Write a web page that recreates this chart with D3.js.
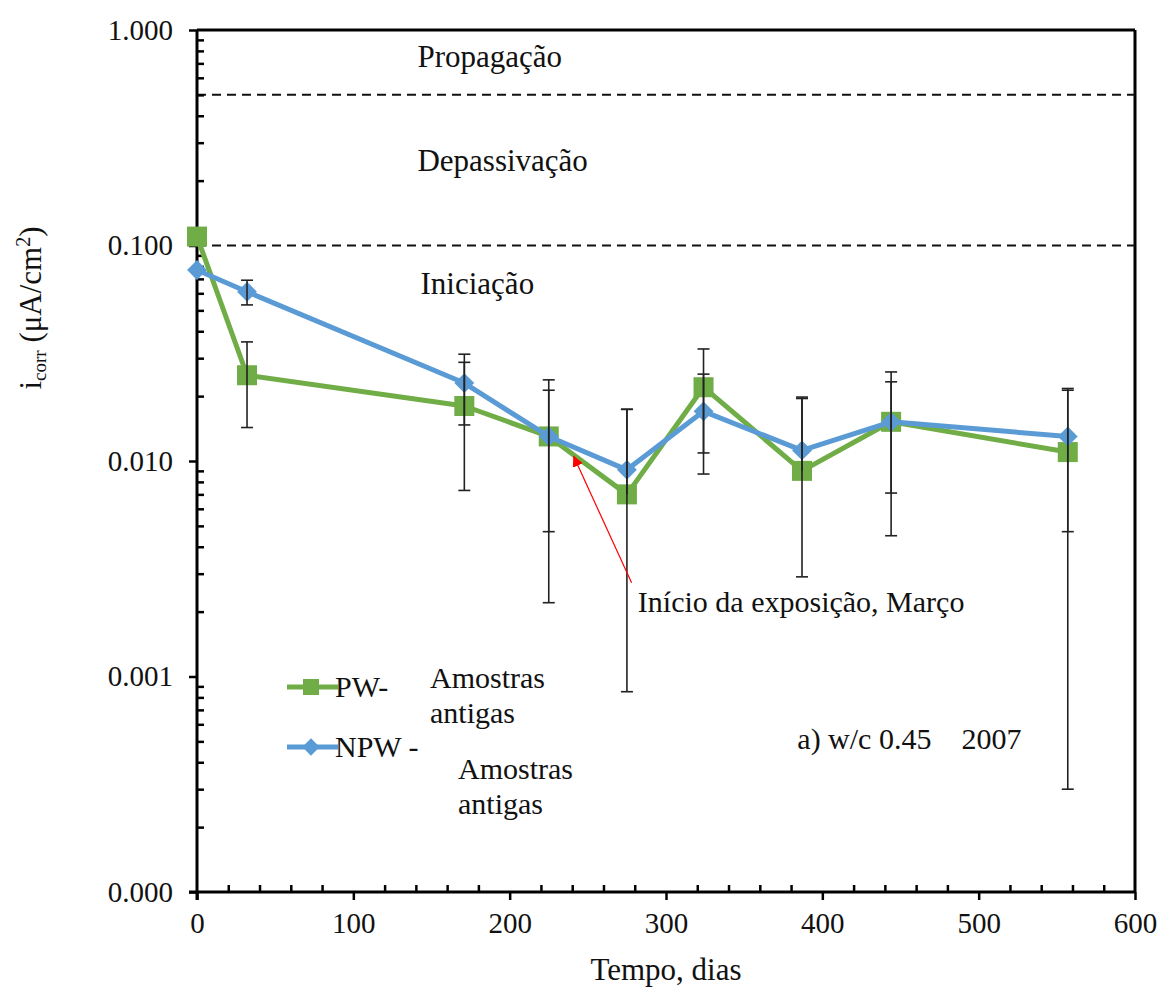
<!DOCTYPE html>
<html>
<head>
<meta charset="utf-8">
<script src="https://cdn.jsdelivr.net/npm/d3@7"></script>
<style>
  html, body { margin: 0; padding: 0; background: #fff; }
  svg { display: block; }
  text { font-family: "Liberation Serif", "Times New Roman", serif; fill: #111; white-space: pre; }
</style>
</head>
<body>
<svg id="chart" width="1170" height="992"></svg>
<script>
// Corrosion current density over time, log scale
const days = [0, 32, 171, 225, 275, 324, 387, 444, 557];
const pwValues = [0.11, 0.025, 0.018, 0.013, 0.007, 0.022, 0.009, 0.0152, 0.011];
const npwValues = [0.077, 0.061, 0.023, 0.013, 0.0091, 0.017, 0.0112, 0.0152, 0.013];
// standard deviations (null = no error bar)
const pwSd = [null, 0.0107, 0.0107, 0.0108, 0.0104, 0.0111, 0.0108, 0.0107, 0.0107];
const npwSd = [null, 0.008, 0.0083, 0.0083, 0.00825, 0.0083, 0.0083, 0.0081, 0.0083];

const xTicks = [0, 100, 200, 300, 400, 500, 600];
const yTicks = [0.0001, 0.001, 0.01, 0.1, 1];
const thresholds = [0.5, 0.1];
const zoneLabels = [
  { text: "Propagação", day: 141, value: 0.67 },
  { text: "Depassivação", day: 141, value: 0.222 },
  { text: "Iniciação", day: 143, value: 0.0595 }
];
const arrowNote = { text: "Início da exposição, Março", fromDay: 278, fromValue: 0.00272, toDay: 241, toValue: 0.0105, labelDay: 282, labelValue: 0.00199 };
const caption = { text: "a) w/c 0.45    2007", day: 384, value: 0.00046 };

const series = [
  { name: "PW-", note: ["Amostras", "antigas"], values: pwValues, sd: pwSd, color: "#70ad47", marker: "square" },
  { name: "NPW -", note: ["Amostras", "antigas"], values: npwValues, sd: npwSd, color: "#5b9bd5", marker: "diamond" }
];

const svg = d3.select("#chart");
const plotLeft = 197, plotRight = 1135, plotTop = 30, plotBottom = 892;
const FONT = 30;

const x = d3.scaleLinear().domain([0, 600]).range([plotLeft, plotRight]);
const y = d3.scaleLog().domain([0.0001, 1]).range([plotBottom, plotTop]);

// minor ticks
const xMinor = d3.range(0, 601, 20).filter(v => v % 100 !== 0);
const yMinor = [];
for (let e = -4; e < 0; e++) for (let m = 2; m <= 9; m++) yMinor.push(m * Math.pow(10, e));

// plot frame (top and right)
svg.append("line").attr("x1", plotLeft).attr("x2", plotRight).attr("y1", plotTop).attr("y2", plotTop)
  .attr("stroke", "#000").attr("stroke-width", 3);
svg.append("line").attr("x1", plotRight).attr("x2", plotRight).attr("y1", plotTop).attr("y2", plotBottom)
  .attr("stroke", "#000").attr("stroke-width", 3);

// threshold dashed lines
svg.selectAll(".thr").data(thresholds).join("line")
  .attr("x1", plotLeft).attr("x2", plotRight)
  .attr("y1", d => y(d)).attr("y2", d => y(d))
  .attr("stroke", "#111").attr("stroke-width", 2).attr("stroke-dasharray", "9,6");

// zone labels
svg.selectAll(".zone").data(zoneLabels).join("text")
  .attr("x", d => x(d.day)).attr("y", d => y(d.value))
  .attr("font-size", 31).text(d => d.text);

// y axis
const yAxis = svg.append("g").attr("transform", `translate(${plotLeft},0)`)
  .call(d3.axisLeft(y).tickValues(yTicks).tickFormat(d3.format(".3f")).tickSize(8).tickPadding(16));
yAxis.select(".domain").attr("stroke-width", 3).attr("d", `M0,${plotTop}V${plotBottom + 8}`);
yAxis.selectAll(".tick line").attr("stroke-width", 2.5);
yAxis.selectAll(".tick text").attr("font-size", 29).attr("font-family", "Liberation Serif").attr("fill", "#111");
svg.append("g").attr("transform", `translate(${plotLeft},0)`)
  .call(d3.axisLeft(y).tickValues(yMinor).tickFormat("").tickSize(-7))
  .call(g => g.select(".domain").remove())
  .selectAll("line").attr("stroke-width", 2.5);

// x axis
const xAxis = svg.append("g").attr("transform", `translate(0,${plotBottom})`)
  .call(d3.axisBottom(x).tickValues(xTicks).tickSize(8).tickPadding(12));
xAxis.select(".domain").attr("stroke-width", 3).attr("d", `M${plotLeft - 8},0H${plotRight}`);
xAxis.selectAll(".tick line").attr("stroke-width", 2.5);
xAxis.selectAll(".tick text").attr("font-size", 29).attr("font-family", "Liberation Serif").attr("fill", "#111");
svg.append("g").attr("transform", `translate(0,${plotBottom})`)
  .call(d3.axisBottom(x).tickValues(xMinor).tickFormat("").tickSize(-7))
  .call(g => g.select(".domain").remove())
  .selectAll("line").attr("stroke-width", 2.5);

// axis titles
svg.append("text").attr("x", (plotLeft + plotRight) / 2).attr("y", 980)
  .attr("text-anchor", "middle").attr("font-size", 31).text("Tempo, dias");
const yt = svg.append("text").attr("transform", "translate(41,308) rotate(-90)")
  .attr("text-anchor", "middle").attr("font-size", 31);
yt.append("tspan").text("i");
yt.append("tspan").attr("font-size", 19).attr("dy", 5).text("corr");
yt.append("tspan").attr("dy", -5).text(" (μA/cm");
yt.append("tspan").attr("font-size", 20).attr("dy", -11).text("2");
yt.append("tspan").attr("dy", 11).text(")");

// series lines and markers
const line = d3.line().x((d, i) => x(days[i])).y(d => y(d));
function drawMarker(g, type, cx, cy, color, size) {
  if (type === "square") {
    g.append("rect").attr("x", cx - size / 2).attr("y", cy - size / 2)
      .attr("width", size).attr("height", size).attr("fill", color);
  } else {
    const h = size * 0.62;
    g.append("path").attr("d", `M${cx},${cy - h}L${cx + h},${cy}L${cx},${cy + h}L${cx - h},${cy}Z`)
      .attr("fill", color);
  }
}
series.forEach(s => {
  const g = svg.append("g");
  g.append("path").datum(s.values).attr("d", line)
    .attr("fill", "none").attr("stroke", s.color).attr("stroke-width", 5).attr("stroke-linejoin", "round");
  s.values.forEach((v, i) => drawMarker(g, s.marker, x(days[i]), y(v), s.color, s.marker === "square" ? 20 : 16));
});

// error bars
const errG = svg.append("g").attr("stroke", "#222").attr("stroke-width", 1.6);
series.forEach(s => {
  s.values.forEach((v, i) => {
    const sd = s.sd[i];
    if (sd == null) return;
    const cx = x(days[i]);
    const hi = v + sd, lo = v - sd;
    const yHi = y(hi), yLo = lo > 0 ? y(lo) : y(v);
    errG.append("line").attr("x1", cx).attr("x2", cx).attr("y1", yHi).attr("y2", yLo);
    errG.append("line").attr("x1", cx - 6).attr("x2", cx + 6).attr("y1", yHi).attr("y2", yHi);
    if (lo > 0) errG.append("line").attr("x1", cx - 6).attr("x2", cx + 6).attr("y1", yLo).attr("y2", yLo);
  });
});

// arrow annotation
svg.append("defs").append("marker").attr("id", "arrowHead")
  .attr("viewBox", "0 0 10 10").attr("refX", 9).attr("refY", 5)
  .attr("markerWidth", 11).attr("markerHeight", 11).attr("markerUnits", "userSpaceOnUse")
  .attr("orient", "auto")
  .append("path").attr("d", "M0,0L10,5L0,10Z").attr("fill", "#ff0000");
svg.append("line")
  .attr("x1", x(arrowNote.fromDay)).attr("y1", y(arrowNote.fromValue))
  .attr("x2", x(arrowNote.toDay)).attr("y2", y(arrowNote.toValue))
  .attr("stroke", "#ff0000").attr("stroke-width", 1.2).attr("marker-end", "url(#arrowHead)");
svg.append("text").attr("x", x(arrowNote.labelDay)).attr("y", y(arrowNote.labelValue))
  .attr("font-size", FONT).text(arrowNote.text);

svg.append("text").attr("x", x(caption.day)).attr("y", y(caption.value))
  .attr("font-size", FONT).text(caption.text);

// legend
const legend = svg.append("g");
series.forEach((s, i) => {
  const ly = 687 + i * 60;
  legend.append("line").attr("x1", 287).attr("x2", 338).attr("y1", ly).attr("y2", ly)
    .attr("stroke", s.color).attr("stroke-width", 5);
  drawMarker(legend, s.marker, 311, ly, s.color, s.marker === "square" ? 16 : 14);
  legend.append("text").attr("x", 335).attr("y", ly + 10).attr("font-size", FONT).text(s.name);
  const nx = i === 0 ? 430 : 458;
  const ny = i === 0 ? ly + 1 : ly + 32;
  s.note.forEach((t, k) => legend.append("text").attr("x", nx).attr("y", ny + k * 35)
    .attr("font-size", FONT).text(t));
});
</script>
</body>
</html>
